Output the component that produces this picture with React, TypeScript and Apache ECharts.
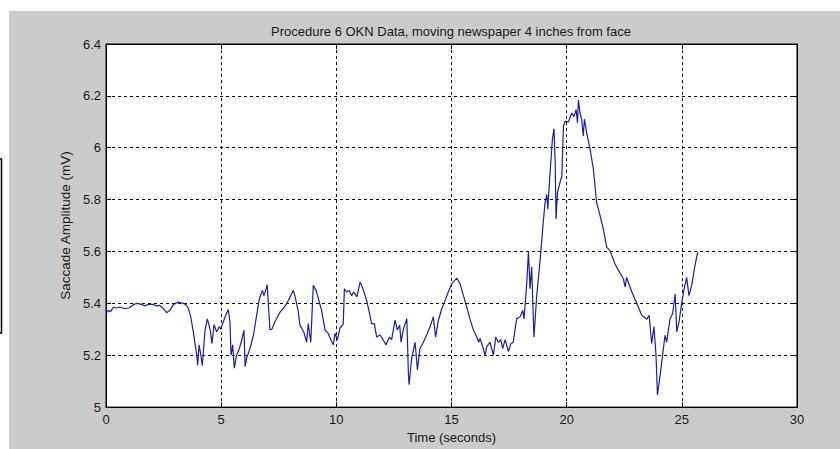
import React, { useEffect, useRef } from "react";
import * as echarts from "echarts";

const titleText = "Procedure 6 OKN Data, moving newspaper 4 inches from face";
const xName = "Time (seconds)";
const yName = "Saccade Amplitude (mV)";

const times = [
  0, 0.1, 0.2, 0.32, 0.46, 0.6, 0.8, 1.0, 1.19, 1.33, 1.55, 1.69, 1.84, 2.05, 2.19, 2.34, 2.49, 2.63, 2.78, 2.92,
  3.14, 3.36, 3.47, 3.58, 3.68, 3.79, 3.94, 3.98, 4.04, 4.12, 4.18, 4.3, 4.4, 4.52, 4.6, 4.69, 4.8, 4.92, 4.98,
  5.17, 5.31, 5.38, 5.43, 5.5, 5.57, 5.67, 5.79, 5.89, 5.99, 6.04, 6.11, 6.25, 6.4, 6.54, 6.66, 6.79, 6.86, 6.95,
  7.0, 7.06, 7.12, 7.2, 7.34, 7.56, 7.7, 7.85, 8.06, 8.13, 8.2, 8.35, 8.42, 8.52, 8.61, 8.71, 8.78, 8.89, 9.0,
  9.12, 9.22, 9.36, 9.51, 9.65, 9.77, 9.87, 9.94, 10.05, 10.16, 10.3, 10.35, 10.45, 10.56, 10.66, 10.76, 10.89,
  11.03, 11.14, 11.32, 11.46, 11.53, 11.65, 11.75, 11.9, 12.04, 12.16, 12.3, 12.4, 12.55, 12.65, 12.75, 12.81,
  12.91, 13.06, 13.13, 13.16, 13.27, 13.42, 13.52, 13.63, 13.78, 13.92, 14.07, 14.21, 14.31, 14.43, 14.58, 14.72,
  14.86, 15.01, 15.23, 15.37, 15.52, 15.66, 15.8, 15.95, 16.1, 16.18, 16.24, 16.38, 16.46, 16.53, 16.67, 16.82,
  16.92, 17.03, 17.14, 17.22, 17.33, 17.47, 17.57, 17.68, 17.76, 17.83, 17.98, 18.09, 18.15, 18.27, 18.34, 18.41,
  18.48, 18.58, 18.7, 18.85, 18.96, 19.06, 19.14, 19.18, 19.28, 19.38, 19.45, 19.5, 19.54, 19.6, 19.71, 19.79,
  19.86, 19.93, 20.08, 20.22, 20.32, 20.41, 20.47, 20.51, 20.58, 20.65, 20.72, 20.77, 20.87, 21.02, 21.16, 21.3,
  21.45, 21.59, 21.74, 21.88, 21.96, 22.1, 22.25, 22.46, 22.54, 22.6, 22.83, 23.04, 23.26, 23.48, 23.58, 23.69,
  23.79, 23.88, 23.94, 24.02, 24.13, 24.27, 24.34, 24.49, 24.6, 24.71, 24.78, 24.88, 25.0, 25.1, 25.21, 25.31,
  25.43, 25.57, 25.69,
];

const amplitudes = [
  5.36, 5.373, 5.368, 5.386, 5.382, 5.386, 5.38, 5.382, 5.395, 5.4, 5.396, 5.39, 5.396, 5.396, 5.39, 5.392, 5.38,
  5.364, 5.373, 5.395, 5.405, 5.4, 5.395, 5.38, 5.348, 5.29, 5.2, 5.162, 5.24, 5.2, 5.16, 5.297, 5.34, 5.3, 5.245,
  5.318, 5.29, 5.31, 5.3, 5.348, 5.376, 5.33, 5.2, 5.24, 5.15, 5.2, 5.226, 5.258, 5.297, 5.156, 5.19, 5.226, 5.277,
  5.354, 5.418, 5.45, 5.43, 5.456, 5.472, 5.38, 5.297, 5.3, 5.33, 5.367, 5.38, 5.4, 5.437, 5.45, 5.43, 5.367, 5.316,
  5.3, 5.284, 5.25, 5.322, 5.25, 5.47, 5.45, 5.418, 5.373, 5.297, 5.284, 5.258, 5.24, 5.284, 5.26, 5.305, 5.32,
  5.456, 5.444, 5.45, 5.43, 5.444, 5.425, 5.482, 5.46, 5.41, 5.354, 5.322, 5.322, 5.27, 5.278, 5.258, 5.24, 5.27,
  5.26, 5.335, 5.297, 5.316, 5.25, 5.3, 5.341, 5.124, 5.086, 5.188, 5.25, 5.143, 5.226, 5.25, 5.278, 5.31, 5.348,
  5.27, 5.335, 5.38, 5.41, 5.444, 5.476, 5.497, 5.476, 5.43, 5.386, 5.34, 5.297, 5.27, 5.25, 5.265, 5.226, 5.2,
  5.233, 5.25, 5.2, 5.27, 5.25, 5.26, 5.226, 5.26, 5.214, 5.243, 5.25, 5.3, 5.341, 5.348, 5.373, 5.34, 5.482, 5.6,
  5.456, 5.54, 5.27, 5.43, 5.57, 5.687, 5.789, 5.82, 5.763, 5.904, 6.032, 6.073, 5.95, 5.725, 5.827, 5.866, 5.89,
  6.083, 6.102, 6.1, 6.134, 6.12, 6.147, 6.096, 6.185, 6.134, 6.11, 6.045, 6.11, 6.057, 5.993, 5.917, 5.789, 5.738,
  5.687, 5.616, 5.603, 5.584, 5.552, 5.527, 5.495, 5.463, 5.5, 5.444, 5.4, 5.354, 5.339, 5.354, 5.245, 5.31, 5.2,
  5.047, 5.098, 5.175, 5.277, 5.25, 5.341, 5.36, 5.437, 5.29, 5.33, 5.405, 5.456, 5.5, 5.43, 5.47, 5.546, 5.597,
];

const xMin = 0;
const xMax = 30;
const xStep = 5;
const yMin = 5;
const yMax = 6.4;
const yStep = 0.2;

export default function App() {
  const ref = useRef<HTMLDivElement>(null);

  useEffect(() => {
    if (!ref.current) return;
    const chart = echarts.init(ref.current, undefined, { renderer: "svg" });
    const data = times.map((t, i) => [t, amplitudes[i]]);
    const font = "Liberation Sans, Arial, sans-serif";
    const textColor = "#1a1a1a";

    const axisCommon = {
      axisLine: { show: true, onZero: false, lineStyle: { color: "#000", width: 1 } },
      axisTick: { show: true, inside: true, length: 5, lineStyle: { color: "#000" } },
    };

    chart.setOption({
      animation: false,
      backgroundColor: "#cbcbcb",
      title: {
        text: titleText,
        left: 446,
        top: 20,
        textAlign: "center",
        textStyle: { fontFamily: font, fontSize: 13, fontWeight: "normal", color: textColor },
      },
      graphic: [
        { type: "rect", left: 0, top: 0, shape: { width: 840, height: 11 }, style: { fill: "#fff" }, z: -10 },
        { type: "rect", left: 0, top: 0, shape: { width: 9, height: 449 }, style: { fill: "#fff" }, z: -10 },
        {
          type: "rect",
          x: -10,
          y: 159,
          shape: { width: 11.5, height: 174 },
          style: { fill: "#fff", stroke: "#000", lineWidth: 1.5 },
          z: -5,
        },
      ],
      grid: {
        left: 106,
        top: 44,
        right: 43,
        bottom: 40,
        show: true,
        backgroundColor: "#fff",
        borderColor: "#000",
        borderWidth: 1,
      },
      xAxis: [
        {
          type: "value",
          min: xMin,
          max: xMax,
          interval: xStep,
          position: "bottom",
          ...axisCommon,
          name: xName,
          nameLocation: "middle",
          nameGap: 22,
          nameTextStyle: { fontFamily: font, fontSize: 13, color: textColor },
          axisLabel: { fontFamily: font, fontSize: 13, color: textColor, margin: 6 },
          splitLine: { show: true, lineStyle: { color: "#000", type: [3, 3], width: 1 } },
        },
        {
          type: "value",
          min: xMin,
          max: xMax,
          interval: xStep,
          position: "top",
          ...axisCommon,
          axisLabel: { show: false },
          splitLine: { show: false },
        },
      ],
      yAxis: [
        {
          type: "value",
          min: yMin,
          max: yMax,
          interval: yStep,
          position: "left",
          ...axisCommon,
          name: yName,
          nameLocation: "middle",
          nameGap: 32,
          nameTextStyle: { fontFamily: font, fontSize: 13.5, color: textColor },
          axisLabel: {
            fontFamily: font,
            fontSize: 13,
            color: textColor,
            margin: 5,
            formatter: (v: number) => String(Math.round(v * 10) / 10),
          },
          splitLine: { show: true, lineStyle: { color: "#000", type: [3, 3], width: 1 } },
        },
        {
          type: "value",
          min: yMin,
          max: yMax,
          interval: yStep,
          position: "right",
          ...axisCommon,
          axisLabel: { show: false },
          splitLine: { show: false },
        },
      ],
      series: [
        {
          type: "line",
          data,
          xAxisIndex: 0,
          yAxisIndex: 0,
          showSymbol: false,
          symbol: "none",
          lineStyle: { color: "#1e1e9e", width: 1.2 },
        },
      ],
    });

    return () => chart.dispose();
  }, []);

  return (
    <div
      ref={ref}
      style={{ position: "absolute", left: 0, top: 0, width: 840, height: 449 }}
    />
  );
}
